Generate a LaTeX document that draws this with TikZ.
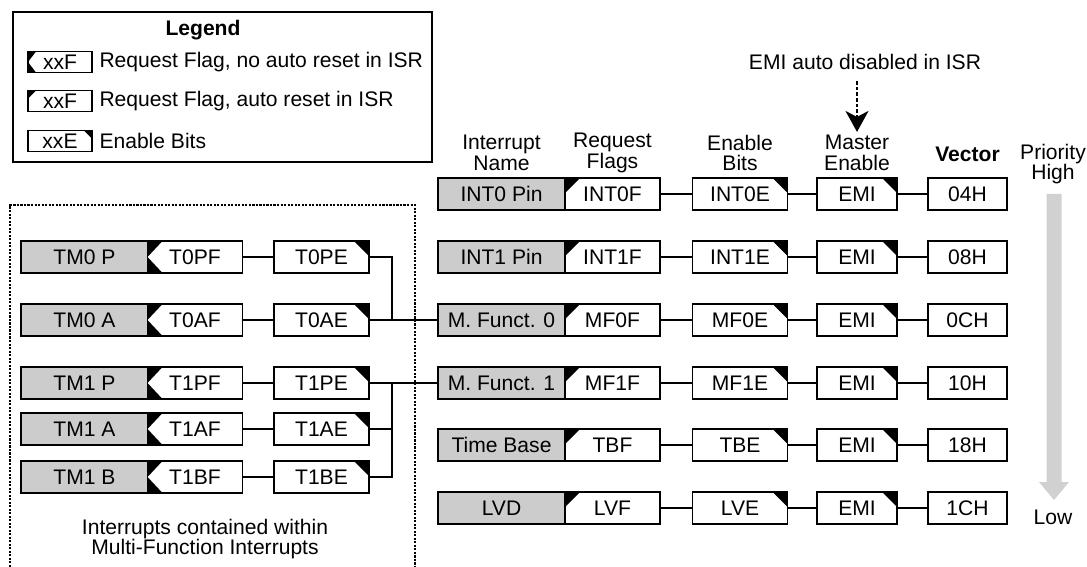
\documentclass[tikz,border=0pt]{standalone}
\usepackage{fontspec}
\setmainfont{Liberation Sans}
\usetikzlibrary{
    arrows.meta,
    calc
}
\tikzset{
  every path/.style={
    black,
    line width=1pt
  },
  every node/.style={
    inner sep=1.5pt
  },
  box/.style={draw, rectangle, fill=white, inner sep=0pt,
    minimum height=0.64cm},
  namebox/.style={box, fill=gray!40, minimum width=2.54cm},
  noreset/.style={box, minimum width=1.9cm, path picture={
      \fill (path picture bounding box.north west) -- ++(#1,0)
        -- (path picture bounding box.west) -- cycle;
      \fill (path picture bounding box.south west) -- ++(#1,0)
        -- (path picture bounding box.west) -- cycle;}},
  noreset/.default=0.3cm,
  autoreset/.style={box, minimum width=1.9cm, path picture={
      \fill (path picture bounding box.north west) -- ++(#1,0)
        -- ++(-#1,-#1) -- cycle;}},
  autoreset/.default=0.3cm,
  enable/.style={box, minimum width=1.9cm, path picture={
      \fill (path picture bounding box.north east) -- ++(-#1,0)
        -- ++(#1,-#1) -- cycle;}},
  enable/.default=0.3cm,
  emibox/.style={enable, minimum width=1.6cm},
  vecbox/.style={box, minimum width=1.58cm},
  legbox/.style={minimum width=1.28cm, minimum height=0.42cm},
  header/.style={align=center},
  dotframe/.style={line width=1.4pt, dash pattern=on 1.2pt off 0.8pt},
  emiarrow/.style={line width=1.1pt, dash pattern=on 2pt off 1.2pt,
    -{Stealth[length=0.42cm, width=0.46cm, inset=0.12cm]}}
}

\begin{document}
\begin{tikzpicture}[x=0.02cm, y=-0.02cm, font=\fontsize{12}{11.6}\selectfont]
    \useasboundingbox (0,0) rectangle (1087,567);

    % Legende
    \draw (13,12) rectangle (432,162);
    \node[font=\fontsize{12}{11.6}\selectfont\bfseries] (leg) at (203,30) {Legend};
    \node[noreset=0.16cm, legbox] (lg1) at (60,62) {xxF};
    \node[anchor=west] (lt1) at (96,62) {Request Flag, no auto reset in ISR};
    \node[autoreset=0.16cm, legbox] (lg2) at (60,101) {xxF};
    \node[anchor=west] (lt2) at (96,101) {Request Flag, auto reset in ISR};
    \node[enable=0.16cm, legbox] (lg3) at (60,141) {xxE};
    \node[anchor=west] (lt3) at (96,141) {Enable Bits};

    % Spaltenkoepfe
    \node[header] (hname) at (501.5,153) {Interrupt\\Name};
    \node[header] (hflag) at (612.5,153) {Request\\Flags};
    \node[header] (hen) at (740,153) {Enable\\Bits};
    \node[header] (hmas) at (857,153) {Master\\Enable};
    \node[font=\fontsize{12}{11.6}\selectfont\bfseries] (hvec) at (967.5,154) {Vector};
    \node[header] (hprio) at (1053,164) {Priority\\High};
    \node (low) at (1053,517) {Low};

    % EMI wird in der ISR abgeschaltet
    \node (emitxt) at (865,62) {EMI auto disabled in ISR};
    \draw[emiarrow, shorten <=0.16cm] (emitxt.south -| hmas.north) -- (hmas.north);

    % Prioritaetspfeil
    \fill[black!18] (1046.5,194) -- (1061.5,194) -- (1061.5,482) -- (1069,482)
        -- (1054,500) -- (1039,482) -- (1046.5,482) -- cycle;

    % Interrupts mit eigenem Vektor
    \node[namebox] (int0) at (501.5,194) {INT0 Pin};
    \node[autoreset] (int0f) at (612.5,194) {INT0F};
    \node[enable] (int0e) at (740,194) {INT0E};
    \node[emibox] (emi0) at (857,194) {EMI};
    \node[vecbox] (vec0) at (967.5,194) {04H};

    \node[namebox] (int1) at (501.5,257) {INT1 Pin};
    \node[autoreset] (int1f) at (612.5,257) {INT1F};
    \node[enable] (int1e) at (740,257) {INT1E};
    \node[emibox] (emi1) at (857,257) {EMI};
    \node[vecbox] (vec1) at (967.5,257) {08H};

    \node[namebox] (mf0) at (501.5,320) {M. Funct. 0};
    \node[autoreset] (mf0f) at (612.5,320) {MF0F};
    \node[enable] (mf0e) at (740,320) {MF0E};
    \node[emibox] (emi2) at (857,320) {EMI};
    \node[vecbox] (vec2) at (967.5,320) {0CH};

    \node[namebox] (mf1) at (501.5,383) {M. Funct. 1};
    \node[autoreset] (mf1f) at (612.5,383) {MF1F};
    \node[enable] (mf1e) at (740,383) {MF1E};
    \node[emibox] (emi3) at (857,383) {EMI};
    \node[vecbox] (vec3) at (967.5,383) {10H};

    \node[namebox] (tb) at (501.5,445) {Time Base};
    \node[autoreset] (tbf) at (612.5,445) {TBF};
    \node[enable] (tbe) at (740,445) {TBE};
    \node[emibox] (emi4) at (857,445) {EMI};
    \node[vecbox] (vec4) at (967.5,445) {18H};

    \node[namebox] (lvd) at (501.5,508) {LVD};
    \node[autoreset] (lvf) at (612.5,508) {LVF};
    \node[enable] (lve) at (740,508) {LVE};
    \node[emibox] (emi5) at (857,508) {EMI};
    \node[vecbox] (vec5) at (967.5,508) {1CH};

    \draw (int0f) -- (int0e); \draw (int0e) -- (emi0); \draw (emi0) -- (vec0);
    \draw (int1f) -- (int1e); \draw (int1e) -- (emi1); \draw (emi1) -- (vec1);
    \draw (mf0f) -- (mf0e); \draw (mf0e) -- (emi2); \draw (emi2) -- (vec2);
    \draw (mf1f) -- (mf1e); \draw (mf1e) -- (emi3); \draw (emi3) -- (vec3);
    \draw (tbf) -- (tbe); \draw (tbe) -- (emi4); \draw (emi4) -- (vec4);
    \draw (lvf) -- (lve); \draw (lve) -- (emi5); \draw (emi5) -- (vec5);

    % Interrupts innerhalb der Multi-Function Interrupts
    \draw[dotframe] (10,567) |- (415,205) -- (415,567);
    \node[header] (mftxt) at (205,539) {Interrupts contained within\\Multi-Function Interrupts};

    \node[namebox] (tm0p) at (84.5,257) {TM0 P};
    \node[noreset] (t0pf) at (195,257) {T0PF};
    \node[enable] (t0pe) at (321.5,257) {T0PE};

    \node[namebox] (tm0a) at (84.5,320) {TM0 A};
    \node[noreset] (t0af) at (195,320) {T0AF};
    \node[enable] (t0ae) at (321.5,320) {T0AE};

    \node[namebox] (tm1p) at (84.5,383) {TM1 P};
    \node[noreset] (t1pf) at (195,383) {T1PF};
    \node[enable] (t1pe) at (321.5,383) {T1PE};

    \node[namebox] (tm1a) at (84.5,429) {TM1 A};
    \node[noreset] (t1af) at (195,429) {T1AF};
    \node[enable] (t1ae) at (321.5,429) {T1AE};

    \node[namebox] (tm1b) at (84.5,477) {TM1 B};
    \node[noreset] (t1bf) at (195,477) {T1BF};
    \node[enable] (t1be) at (321.5,477) {T1BE};

    \draw (t0pf) -- (t0pe);
    \draw (t0af) -- (t0ae);
    \draw (t1pf) -- (t1pe);
    \draw (t1af) -- (t1ae);
    \draw (t1bf) -- (t1be);

    % Sammelleitungen
    \coordinate (j0) at (392,320);
    \coordinate (j1) at (392,383);
    \draw (t0pe.east) -| (j0);
    \draw (t0ae) -- (mf0);
    \draw (t1pe) -- (mf1);
    \draw (t1ae.east) -| (j1);
    \draw (t1be.east) -| (j1);
\end{tikzpicture}
\end{document}
